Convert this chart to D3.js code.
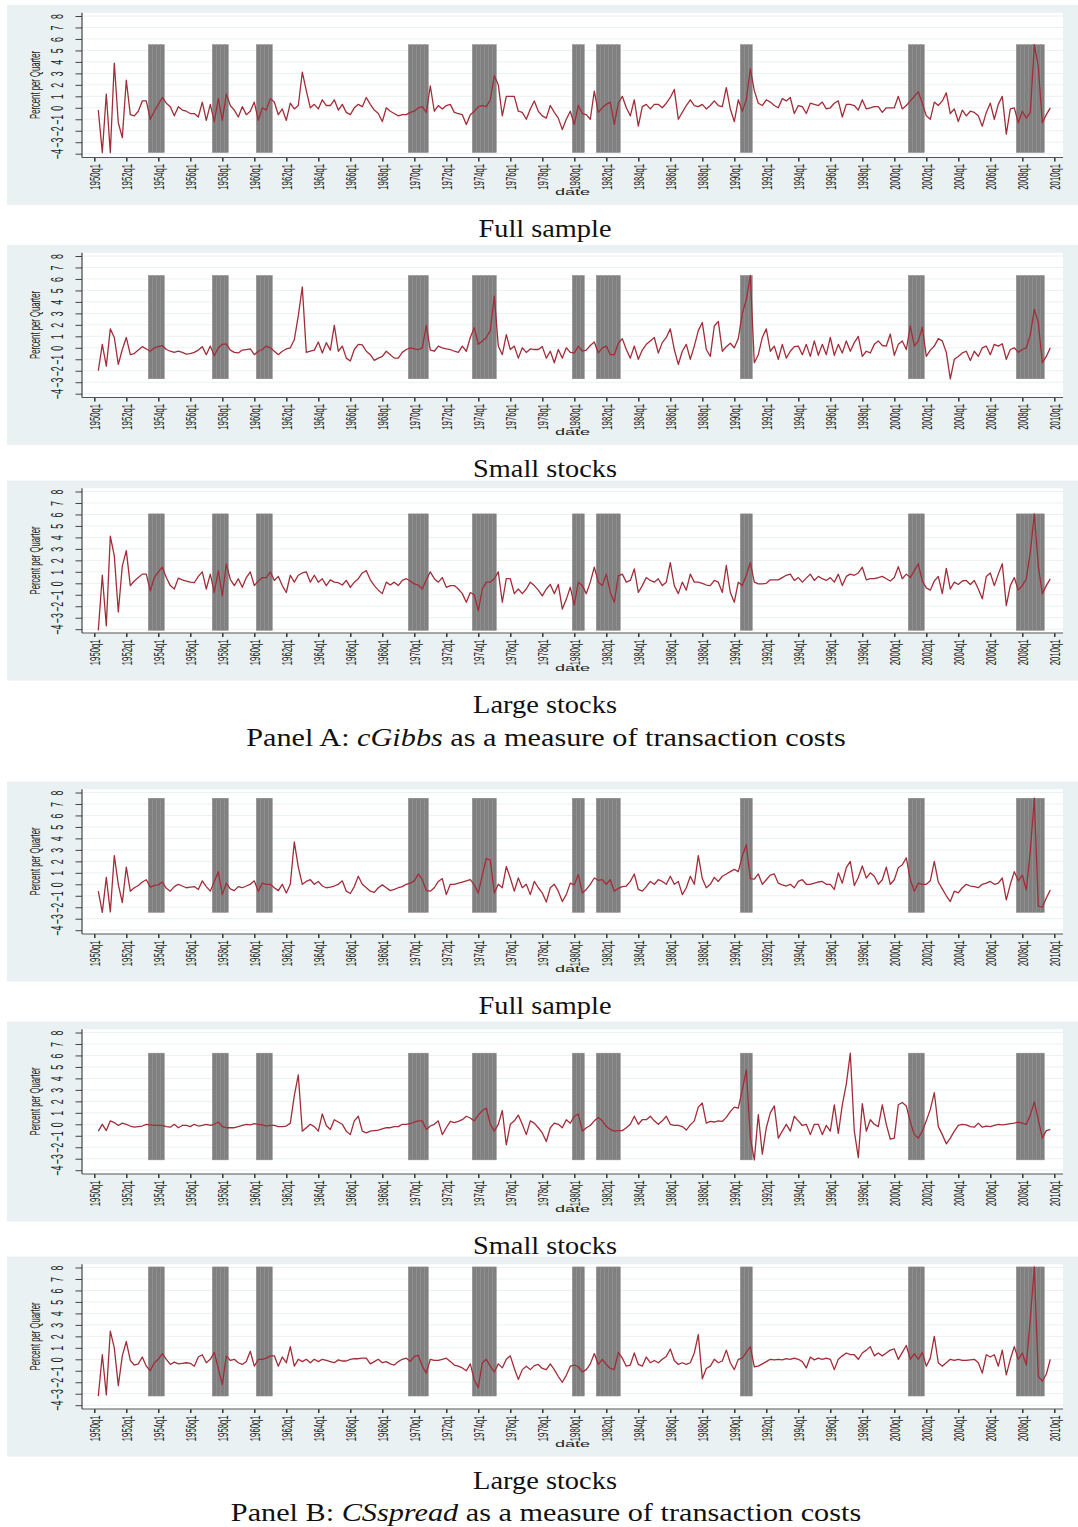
<!DOCTYPE html>
<html><head><meta charset="utf-8">
<script src="https://cdn.jsdelivr.net/npm/d3@7"></script>
<style>body{margin:0;background:#fff} svg{display:block}</style>
</head><body>
<svg id="chart" width="1078" height="1527"></svg>
<script>
// ---------------- data ----------------
const firstQuarter = "1950q2";
const xTickLabels = ["1950q1","1952q1","1954q1","1956q1","1958q1","1960q1","1962q1","1964q1","1966q1","1968q1","1970q1","1972q1","1974q1","1976q1","1978q1","1980q1","1982q1","1984q1","1986q1","1988q1","1990q1","1992q1","1994q1","1996q1","1998q1","2000q1","2002q1","2004q1","2006q1","2008q1","2010q1"];
const yTicks = [-4,-3,-2,-1,0,1,2,3,4,5,6,7,8];
const recessions = [["1953q3","1954q2"],["1957q3","1958q2"],["1960q2","1961q1"],["1969q4","1970q4"],["1973q4","1975q1"],["1980q1","1980q3"],["1981q3","1982q4"],["1990q3","1991q1"],["2001q1","2001q4"],["2007q4","2009q2"]];
const subCaptions = ["Full sample","Small stocks","Large stocks"];
const yTitle = "Percent per Quarter";
const xTitle = "date";

const gibbsFull = [-0.2,-3.9,1.2,-3.9,3.9,-1.3,-2.6,2.4,-0.6,-0.7,
-0.3,0.6,0.6,-1.0,-0.3,0.3,0.9,0.4,0.1,-0.7,
0.1,-0.2,-0.3,-0.5,-0.5,-0.8,0.5,-1.1,0.3,-1.2,
0.8,-1.1,1.2,0.2,-0.2,-0.8,0.1,-0.6,-0.3,0.5,
-1.1,0.0,-0.2,0.8,0.5,-0.6,-0.1,-1.1,0.4,-0.1,
0.2,3.1,1.5,0.0,0.3,-0.1,0.7,0.2,0.2,0.7,
-0.2,0.3,-0.4,-0.6,0.0,0.3,0.1,0.9,0.3,-0.2,
-0.5,-1.2,0.0,-0.3,-0.5,-0.7,-0.6,-0.6,-0.4,-0.3,
0.0,0.1,-0.4,1.9,-0.3,0.2,-0.1,0.2,0.3,-0.4,
-0.5,-0.6,-1.45,-0.6,-0.3,0.1,0.2,0.1,0.7,2.8,
2.0,-0.7,1.0,1.0,1.0,-0.3,-0.4,-1.0,-0.1,0.6,
-0.3,-0.7,-0.9,0.2,-0.4,-0.9,-1.9,-1.0,-0.3,-1.45,
0.2,-0.5,-0.6,-1.0,1.45,-0.4,0.0,0.3,0.5,-1.45,
0.4,1.0,0.0,-0.7,0.7,-1.6,0.1,0.3,-0.1,0.3,
0.3,0.0,0.4,0.9,1.6,-1.0,-0.4,0.2,0.7,0.2,
0.1,0.3,-0.1,0.2,0.6,0.2,0.1,1.75,-0.1,-1.2,
0.7,-0.3,0.7,3.4,1.5,0.4,0.2,0.7,0.5,0.2,
0.0,0.8,0.6,0.9,-0.5,0.2,0.1,-0.5,0.4,0.3,
0.2,0.5,-0.1,0.0,0.4,0.6,-0.8,0.3,0.3,0.2,
-0.2,0.7,-0.1,0.0,0.1,0.1,-0.4,0.0,0.0,0.0,
1.0,-0.1,0.2,0.6,1.0,1.4,0.4,-0.7,-1.0,0.5,
0.2,0.6,1.3,-0.5,-0.1,-1.2,-0.2,-0.7,-0.3,-0.4,
-0.7,-1.6,-0.4,0.4,-1.0,0.3,1.0,-2.3,-0.1,0.0,
-1.3,-0.3,-0.9,-0.4,5.5,3.6,-1.3,-0.6,0.0];

const gibbsSmall = [-2.0,0.3,-1.6,1.65,0.9,-1.45,-0.15,0.9,-0.6,-0.5,
-0.2,0.1,-0.1,-0.3,0.0,0.1,0.2,-0.15,-0.3,-0.4,
-0.3,-0.4,-0.55,-0.5,-0.4,-0.2,0.1,-0.6,0.15,-0.7,
0.0,0.3,0.35,-0.2,-0.4,-0.45,-0.2,-0.15,-0.1,-0.6,
-0.3,-0.15,0.15,0.0,-0.3,-0.6,-0.3,-0.1,0.0,0.7,
2.8,5.3,-0.4,-0.3,-0.2,0.5,-0.45,0.45,-0.2,1.95,
-0.3,0.15,-0.9,-1.15,-0.15,0.3,0.25,-0.3,-0.6,-1.1,
-0.9,-0.75,-0.3,-0.6,-0.9,-0.9,-0.4,-0.15,0.0,-0.1,
-0.15,0.0,1.95,-0.2,-0.3,0.15,0.0,-0.1,-0.15,-0.3,
-0.4,0.15,-0.3,0.9,1.75,0.3,0.6,0.9,1.5,4.5,
0.15,-0.6,1.15,-0.15,0.15,-0.9,0.0,-0.4,-0.1,-0.15,
-0.15,0.1,-0.9,-0.3,-1.3,-0.15,-0.9,0.0,-0.4,-0.45,
0.15,-0.3,-0.2,0.2,0.5,-0.45,0.0,0.15,-0.6,-0.6,
0.4,0.8,-0.15,-0.9,0.15,-1.0,-0.2,0.3,0.6,0.9,
-0.45,0.45,0.9,1.65,-0.15,-1.45,-0.3,0.3,-1.0,0.15,
1.5,2.2,-0.15,-0.75,1.9,2.3,-0.3,0.1,0.4,0.0,
0.8,3.0,4.2,6.3,-1.3,-0.6,0.9,1.65,-0.3,0.15,
-1.0,0.3,-0.9,-0.3,0.1,0.15,-0.6,0.3,-0.75,0.6,
-0.65,0.3,-0.6,0.9,-0.65,0.3,-0.45,0.6,-0.3,0.45,
1.0,-0.75,-0.3,-0.45,0.3,0.6,0.2,0.15,1.2,-0.65,
0.3,0.6,-0.15,1.9,0.15,0.6,1.8,-0.75,-0.2,0.15,
0.8,0.6,-0.4,-2.7,-1.0,-0.75,-0.45,-0.3,-1.1,-0.3,
-0.75,0.0,0.15,-0.6,0.3,0.15,0.35,-1.0,-0.15,0.0,
-0.4,-0.15,0.0,1.15,3.35,2.2,-1.3,-0.75,0.0];

const gibbsLarge = [-4.1,0.7,-3.7,4.1,2.4,-2.5,1.5,2.85,-0.2,0.2,
0.5,0.8,0.8,-0.65,0.5,1.0,1.4,0.5,-0.2,-0.5,
0.45,0.3,0.2,0.1,0.05,0.6,1.0,-0.5,0.8,-0.8,
1.1,-1.1,1.7,0.35,-0.2,0.4,-0.35,0.5,1.0,-0.2,
0.2,0.5,0.5,1.0,0.25,0.6,-0.2,-0.8,0.7,0.1,
0.7,0.9,1.0,0.1,0.7,0.1,0.4,-0.2,0.3,0.1,
0.05,-0.15,0.25,-0.35,0.1,0.4,0.9,1.1,0.3,-0.2,
-0.6,-0.9,0.1,-0.15,0.1,-0.2,0.25,0.4,0.2,-0.05,
-0.15,-0.5,0.3,1.0,0.4,0.1,0.5,-0.35,-0.2,-0.2,
-0.5,-0.9,-1.65,-0.8,-1.0,-2.4,-0.5,0.1,0.1,0.4,
1.0,-1.65,0.4,0.4,-0.9,-0.5,-0.9,-0.5,0.1,-0.2,
-0.6,-1.1,-0.5,-0.1,-0.9,-0.1,-2.25,-1.4,-0.35,-1.9,
0.1,-0.2,-0.9,0.1,1.4,0.1,-0.2,0.8,-0.8,-1.65,
0.65,0.8,0.1,0.25,1.25,-0.8,-0.2,0.5,0.25,0.1,
0.4,-0.2,0.1,1.8,-0.2,-0.9,0.1,-0.6,0.8,0.1,
0.1,0.0,-0.15,-0.2,0.25,0.1,-0.8,1.55,-0.8,-1.65,
0.1,-0.2,0.7,1.8,0.1,-0.05,-0.05,0.0,0.3,0.3,
0.3,0.5,0.7,0.8,0.25,0.5,0.1,0.45,0.8,0.25,
0.6,0.4,0.25,0.5,0.1,0.8,-0.2,0.6,0.8,0.7,
0.9,1.4,0.3,0.4,0.4,0.5,0.6,0.4,0.2,0.5,
1.45,0.4,0.8,0.5,1.1,1.7,0.2,-0.4,-0.6,0.2,
0.6,-0.9,1.3,-0.5,0.1,-0.1,0.2,0.25,-0.1,0.25,
-0.5,-1.35,0.6,0.9,-0.2,0.8,1.7,-1.95,-0.2,0.5,
-0.6,-0.2,0.4,2.7,6.05,1.5,-0.9,-0.2,0.4];

const spreadFull = [-0.6,-2.45,0.6,-2.4,2.5,0.0,-1.6,1.5,-0.6,-0.3,
-0.1,0.2,0.4,-0.25,-0.1,-0.05,0.2,-0.35,-0.6,-0.2,
0.0,-0.15,-0.3,-0.25,-0.2,-0.45,0.3,-0.2,-0.6,0.25,
1.1,-0.9,0.1,-0.4,-0.55,-0.2,-0.3,-0.15,0.0,0.3,
-0.6,0.1,0.0,0.0,-0.3,-0.55,0.0,-0.75,0.0,3.7,
1.5,0.0,0.25,0.4,0.0,0.25,-0.15,-0.3,-0.25,-0.15,
0.0,0.3,-0.6,-0.8,-0.2,0.7,0.0,-0.3,-0.6,-0.7,
-0.3,-0.05,-0.3,-0.55,-0.45,-0.3,-0.2,0.0,0.1,0.3,
0.9,0.4,-0.55,-0.6,-0.3,0.25,0.5,-0.9,0.0,0.0,
0.1,0.2,0.3,0.4,-0.05,-0.75,0.8,2.25,2.1,-0.75,
0.0,-0.3,1.55,0.55,-0.6,0.55,-0.3,0.0,-0.9,0.25,
-0.3,-0.75,-1.55,-0.3,0.0,-0.6,-1.5,-0.9,0.1,-0.05,
0.85,-0.75,-0.45,0.0,0.55,0.35,0.4,0.0,0.4,-0.6,
-0.35,-0.2,-0.15,0.25,0.9,-0.45,-0.6,-0.2,0.25,0.0,
0.4,0.25,0.0,0.7,0.0,0.25,-0.9,-0.3,0.7,0.0,
2.5,0.5,-0.3,0.0,0.6,0.25,0.7,0.9,1.1,1.3,
1.1,2.45,3.45,0.5,0.45,0.9,0.0,0.4,0.8,0.9,
0.1,-0.05,-0.15,0.0,-0.3,0.25,0.4,0.0,0.0,0.1,
0.2,0.25,0.0,0.0,-0.45,1.0,0.1,1.45,2.0,-0.1,
0.6,1.6,0.55,1.0,0.7,0.0,0.4,1.5,0.0,0.4,
1.45,1.7,2.3,0.4,-0.6,0.1,0.0,0.0,0.3,2.0,
0.2,-0.4,-1.0,-1.5,-0.6,-0.75,-0.3,0.0,-0.15,-0.2,
-0.3,0.0,0.1,0.25,0.0,0.1,0.55,-1.35,0.0,1.1,
0.3,0.8,-0.5,2.9,7.5,-1.9,-2.0,-1.2,-0.5];

const spreadSmall = [-0.6,0.0,-0.55,0.3,0.15,-0.1,0.1,0.0,-0.15,-0.25,
-0.2,-0.15,0.0,-0.05,-0.1,-0.1,-0.1,-0.2,-0.25,0.0,
-0.3,-0.1,-0.1,-0.2,0.0,-0.15,-0.1,0.0,-0.1,0.0,
0.2,-0.2,-0.3,-0.3,-0.3,-0.2,-0.1,0.0,-0.05,0.05,
0.0,-0.05,-0.15,-0.1,-0.1,-0.2,-0.2,-0.15,0.1,2.5,
4.3,-0.6,-0.3,0.0,-0.2,-0.6,0.9,-0.1,-0.45,0.4,
0.2,0.0,-0.6,-0.9,0.3,0.7,-0.6,-0.75,-0.6,-0.55,
-0.5,-0.4,-0.3,-0.3,-0.2,-0.2,0.0,0.0,0.05,0.2,
0.3,0.3,-0.45,-0.15,0.0,0.3,-0.9,-0.3,0.25,0.15,
0.25,0.4,0.7,0.55,0.3,0.8,1.2,1.4,0.0,-0.6,
0.0,1.2,-1.8,0.0,0.3,0.8,0.0,-0.9,0.3,0.1,
-0.3,-0.75,-1.5,-0.3,0.1,0.0,-0.3,0.4,0.1,0.7,
0.9,-0.6,-0.3,-0.1,0.3,0.6,0.3,-0.2,-0.45,-0.6,
-0.55,-0.55,-0.3,0.0,0.7,0.0,0.4,0.4,0.7,0.3,
0.0,0.3,0.7,0.0,-0.1,-0.1,-0.2,-0.5,-0.05,0.3,
1.5,1.85,0.1,0.25,0.2,0.3,0.25,0.6,1.1,1.5,
1.4,3.0,4.75,-1.2,-3.1,0.85,-2.6,-0.3,1.0,1.6,
-1.2,-0.6,0.0,-0.6,0.7,0.3,-0.1,0.0,-0.9,0.0,
0.0,-0.9,-0.1,-0.6,1.7,-0.8,1.7,3.5,6.2,-0.6,
-2.9,1.8,-0.6,0.4,0.0,-0.2,1.7,0.0,-1.3,-1.2,
1.7,1.9,1.6,0.2,-0.9,-1.2,-0.6,0.3,1.3,2.75,
-0.2,-0.9,-1.7,-1.2,-0.6,-0.1,0.0,-0.05,-0.2,-0.25,
0.1,-0.25,-0.15,-0.2,-0.1,0.0,-0.05,0.0,0.05,0.1,
0.2,0.1,0.0,0.8,1.95,0.4,-1.2,-0.55,-0.45];

const spreadLarge = [-3.2,0.4,-3.1,2.45,1.0,-2.3,0.3,1.55,-0.1,-0.5,
-0.4,0.2,-0.6,-1.0,-0.3,0.0,0.5,0.0,-0.45,-0.25,
-0.4,-0.35,-0.3,-0.35,-0.6,0.2,0.4,-0.3,0.0,0.6,
-0.8,-2.2,0.3,-0.1,0.0,-0.3,-0.45,-0.2,0.7,-0.6,
0.0,0.0,0.1,0.3,0.3,-0.6,0.2,-0.3,1.1,-0.6,
0.0,-0.2,0.0,-0.3,0.0,-0.2,0.0,-0.1,-0.2,-0.3,
-0.05,-0.15,-0.15,0.0,0.05,0.05,0.1,0.1,-0.4,-0.2,
0.0,-0.3,-0.2,-0.4,-0.5,-0.2,0.0,0.1,-0.2,0.25,
0.35,-0.6,-1.2,0.0,-0.1,-0.1,0.0,0.1,-0.2,-0.5,
-0.6,-0.75,-1.0,-0.4,-1.8,-2.45,-0.3,0.0,-0.6,-1.1,
-0.4,-0.75,0.0,0.3,-0.8,-1.75,-0.9,-0.6,-0.9,-0.55,
-0.45,-0.8,-0.9,-0.4,-0.9,-1.5,-2.0,-1.4,-0.6,-0.5,
-0.65,-1.1,-0.9,-0.4,0.5,-0.45,0.0,-0.45,-0.8,-0.9,
0.6,0.1,-0.6,-0.5,0.55,-0.45,-0.6,0.2,-0.3,-0.1,
-0.3,0.0,0.25,0.9,-0.1,-0.45,-0.3,-0.45,-0.3,0.55,
2.15,-1.7,-0.8,-0.6,0.0,-0.3,-0.15,0.8,-0.3,-0.9,
0.0,0.1,0.6,1.1,-0.65,-0.6,-0.4,-0.2,0.0,-0.05,
0.0,-0.05,0.05,0.0,0.1,0.0,-0.2,-0.75,0.2,-0.05,
0.1,0.0,0.1,0.0,-0.9,0.0,0.3,0.55,0.4,0.4,
0.0,0.55,0.8,1.1,0.3,0.55,0.3,0.55,0.8,0.9,
0.0,0.6,1.2,0.0,0.5,0.0,0.6,-0.6,0.1,2.0,
-0.3,-0.6,-0.3,0.0,-0.1,0.0,-0.1,-0.1,-0.05,0.0,
-0.3,-1.2,0.4,0.2,0.4,-0.6,0.8,-1.35,0.0,1.1,
0.0,0.55,-0.5,3.5,8.05,-1.5,-1.9,-1.3,0.0];

// ---------------- layout ----------------
const panels = [
  {series: gibbsFull,  caption: subCaptions[0], top: 0},
  {series: gibbsSmall, caption: subCaptions[1], top: 240},
  {series: gibbsLarge, caption: subCaptions[2], top: 475.5},
  {series: spreadFull, caption: subCaptions[0], top: 776.5},
  {series: spreadSmall,caption: subCaptions[1], top: 1016.5},
  {series: spreadLarge,caption: subCaptions[2], top: 1251.5}
];
const captionWidths = {"Full sample":133, "Small stocks":144, "Large stocks":144};

function qIndex(s){ const y=+s.slice(0,4), q=+s.slice(5); return (y-1950)*4 + (q-1); }
const start = qIndex(firstQuarter);

const svg = d3.select("#chart");
const plotLayer = svg.append("g");
const captionLayer = svg.append("g");
const x = d3.scaleLinear().domain([0, 240]).range([94.3, 1054.3]);
const AX_L = 82, AX_R = 1063;
const SQ = 0.55; // vertical squeeze of the original graph
const tickIdx = xTickLabels.map(qIndex);

panels.forEach(p => {
  const t = p.top;
  const g = plotLayer.append("g");
  const y = d3.scaleLinear().domain([-4, 8]).range([t + 153.7, t + 16]);
  const data = p.series.map((v, i) => ({q: start + i, v}));
  const [mn, mx] = d3.extent(p.series);

  g.append("rect").attr("x", 7).attr("y", t + 5).attr("width", 1071).attr("height", 200).attr("fill", "#e9f1f3");
  g.append("rect").attr("x", AX_L).attr("y", t + 12.7).attr("width", AX_R - AX_L).attr("height", 157.5 - 12.7).attr("fill", "#ffffff");

  // grid
  g.append("g").selectAll("line").data(yTicks).join("line")
    .attr("x1", AX_L).attr("x2", AX_R).attr("y1", d => y(d)).attr("y2", d => y(d))
    .attr("stroke", "#eaf1f3").attr("stroke-width", 1);

  // recession bars
  const recQ = [];
  recessions.forEach(([a, b]) => { for (let q = qIndex(a); q <= qIndex(b); q++) recQ.push(q); });
  g.append("g").selectAll("rect").data(recQ).join("rect")
    .attr("x", d => x(d) - 2).attr("width", x(1) - x(0))
    .attr("y", y(mx)).attr("height", y(mn) - y(mx))
    .attr("fill", "#808080").attr("stroke", "#8d8d8d").attr("stroke-width", 0.5);

  // series line
  const line = d3.line().x(d => x(d.q)).y(d => y(d.v));
  g.append("path").datum(data).attr("d", line)
    .attr("fill", "none").attr("stroke", "#a22d39").attr("stroke-width", 1.3).attr("stroke-linejoin", "round");

  // axes
  const yAxis = g.append("g").attr("transform", `translate(${AX_L},0)`)
    .call(d3.axisLeft(y).tickValues(yTicks).tickSize(6.5).tickSizeOuter(0).tickFormat(d3.format("d")));
  yAxis.select(".domain").remove();
  yAxis.selectAll(".tick line").attr("stroke", "#444").attr("stroke-width", 1);
  yAxis.selectAll(".tick text")
    .attr("x", null).attr("dy", null).attr("text-anchor", "middle")
    .attr("transform", `translate(${63 - AX_L},0) scale(1,${SQ}) rotate(-90)`)
    .attr("font-family", "Liberation Sans, Arial, sans-serif").attr("font-size", 16).attr("fill", "#222");

  const xAxis = g.append("g").attr("transform", `translate(0,${t + 157.5})`)
    .call(d3.axisBottom(x).tickValues(tickIdx).tickSize(4).tickSizeOuter(0)
      .tickFormat(d => xTickLabels[tickIdx.indexOf(d)]));
  xAxis.select(".domain").remove();
  xAxis.selectAll(".tick line").attr("stroke", "#333").attr("stroke-width", 1.5);
  xAxis.selectAll(".tick text")
    .attr("y", null).attr("dy", null).attr("text-anchor", "end")
    .attr("transform", `translate(5,6.5) scale(1,${SQ}) rotate(-90)`)
    .attr("font-family", "Liberation Sans, Arial, sans-serif").attr("font-size", 14).attr("fill", "#222");

  g.append("line").attr("x1", AX_L).attr("x2", AX_L).attr("y1", t + 12.7).attr("y2", t + 157.5).attr("stroke", "#333").attr("stroke-width", 1.1);
  g.append("line").attr("x1", AX_L).attr("x2", AX_R).attr("y1", t + 157.5).attr("y2", t + 157.5).attr("stroke", "#555").attr("stroke-width", 1.1);

  // titles
  g.append("text").text(yTitle)
    .attr("text-anchor", "middle")
    .attr("transform", `translate(40,${t + 85}) scale(1,${SQ}) rotate(-90)`)
    .attr("font-family", "Liberation Sans, Arial, sans-serif").attr("font-size", 14).attr("fill", "#222");
  g.append("text").text(xTitle)
    .attr("text-anchor", "middle")
    .attr("transform", `translate(572.5,${t + 195}) scale(1,${SQ})`)
    .attr("font-family", "Liberation Sans, Arial, sans-serif").attr("font-size", 18).attr("fill", "#222");

  // caption
  const cap = captionLayer.append("text").text(p.caption).attr("text-anchor", "middle")
    .attr("font-family", "Liberation Serif, Times New Roman, serif").attr("font-size", 26).attr("fill", "#111");
  const w = cap.node().getComputedTextLength();
  cap.attr("transform", `translate(545,${t + 237}) scale(${captionWidths[p.caption] / w},1)`);
});

// panel captions
function panelCaption(prefix, it, suffix, baseline, targetW, k) {
  const tx = captionLayer.append("text").attr("text-anchor", "middle")
    .attr("font-family", "Liberation Serif, Times New Roman, serif").attr("font-size", 26).attr("fill", "#111");
  tx.append("tspan").text(prefix);
  tx.append("tspan").attr("font-style", "italic").text(it);
  tx.append("tspan").text(suffix);
  const w = tx.node().getComputedTextLength();
  const s = targetW ? targetW / w : k;
  tx.attr("transform", `translate(546,${baseline}) scale(${s},1)`);
  return s;
}
const kA = panelCaption("Panel A: ", "cGibbs", " as a measure of transaction costs", 746, 600);
panelCaption("Panel B: ", "CSspread", " as a measure of transaction costs", 1521, null, kA);
</script>
</body></html>
